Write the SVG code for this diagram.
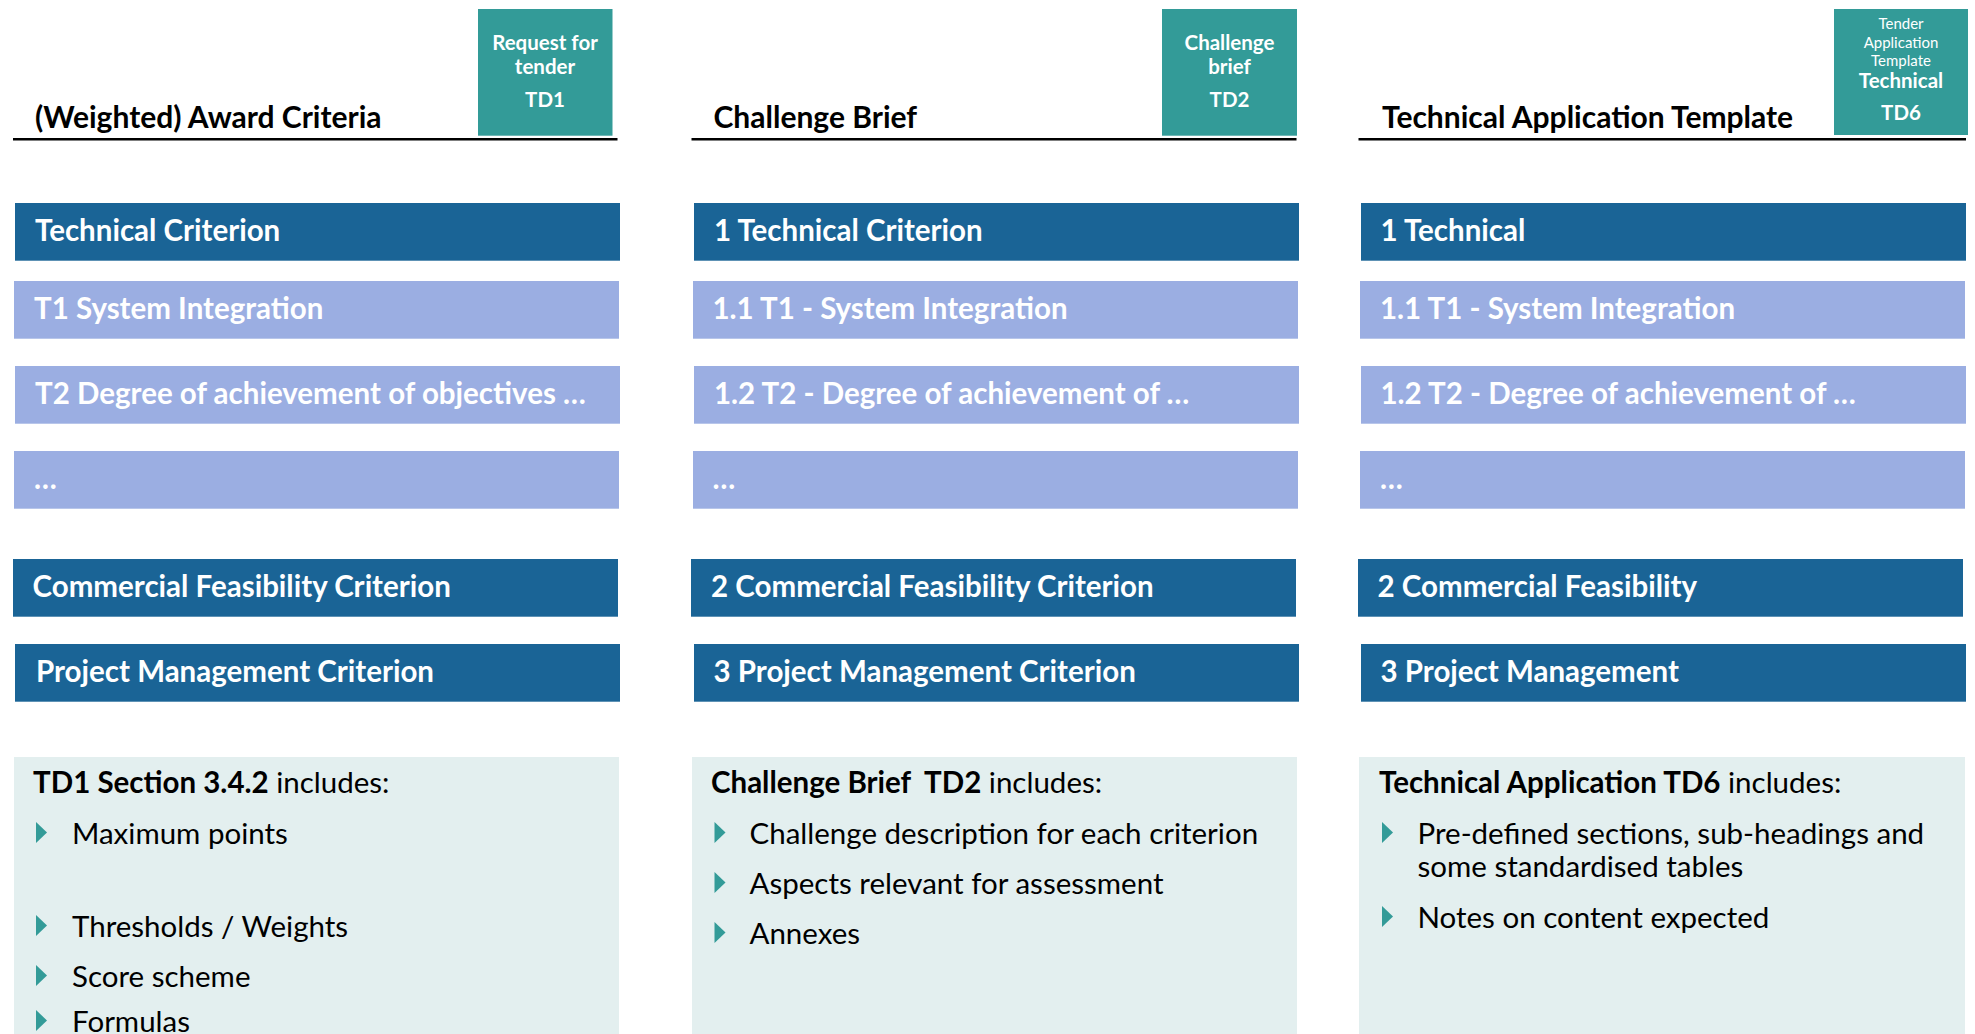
<svg xmlns="http://www.w3.org/2000/svg" width="1975" height="1034" viewBox="0 0 1975 1034">
<style>
text{font-family:Lato,"Open Sans","Liberation Sans",sans-serif}
.title{font-size:30px;font-weight:bold;fill:#000}
.tag{fill:#339b98}
.tagt{font-size:20.5px;font-weight:bold;fill:#fff;text-anchor:middle}
.tags{font-size:15px;fill:#fff;text-anchor:middle}
.rule{stroke:#000;stroke-width:2.5}
.dark{fill:#1a6496}
.light{fill:#9baee2}
.bt{font-size:29.5px;font-weight:bold;fill:#fff}
.info{fill:#e3efef}
.ih{font-size:29.5px;fill:#000;white-space:pre}
.it{font-size:29.5px;fill:#000}
.b{font-weight:bold}
.tri{fill:#339b98}
</style>
<defs>
<polygon id="tri" points="0,-22 11,-11.5 0,-1" class="tri"/>
</defs>

<g id="col1">
 <g id="col1-header">
  <text class="title" x="35" y="127.7">(Weighted) Award Criteria</text>
  <line class="rule" x1="13" y1="139.3" x2="617.5" y2="139.3"/>
  <rect class="tag" x="478" y="9" width="134.5" height="126.7"/>
  <text class="tagt" x="545" y="50">Request for</text>
  <text class="tagt" x="545" y="74">tender</text>
  <text class="tagt" x="545" y="106.7">TD1</text>
 </g>
 <g id="col1-technical"><rect class="dark" x="15" y="203" width="605" height="57.7"/><text class="bt" x="35" y="240.7">Technical Criterion</text></g>
 <g id="col1-t1"><rect class="light" x="14" y="281" width="605" height="57.7"/><text class="bt" x="34" y="318.5">T1 System Integration</text></g>
 <g id="col1-t2"><rect class="light" x="15" y="366" width="605" height="57.7"/><text class="bt" x="35" y="403.5">T2 Degree of achievement of objectives …</text></g>
 <g id="col1-more"><rect class="light" x="14" y="451" width="605" height="57.7"/><text class="bt" x="34" y="488.5">…</text></g>
 <g id="col1-commercial"><rect class="dark" x="13" y="559" width="605" height="57.7"/><text class="bt" x="32.5" y="596.7">Commercial Feasibility Criterion</text></g>
 <g id="col1-pm"><rect class="dark" x="15" y="644" width="605" height="57.7"/><text class="bt" x="36" y="681.7">Project Management Criterion</text></g>
 <g id="col1-info">
  <rect class="info" x="14" y="757" width="605" height="277"/>
  <text class="ih" x="33" y="792.7"><tspan class="b">TD1 Section 3.4.2</tspan> includes:</text>
  <use href="#tri" x="36" y="844"/><text class="it" x="72" y="844">Maximum points</text>
  <use href="#tri" x="36" y="937"/><text class="it" x="72" y="937">Thresholds / Weights</text>
  <use href="#tri" x="36" y="987"/><text class="it" x="72" y="987">Score scheme</text>
  <use href="#tri" x="36" y="1032"/><text class="it" x="72" y="1032">Formulas</text>
 </g>
</g>

<g id="col2">
 <g id="col2-header">
  <text class="title" x="713.5" y="127.7">Challenge Brief</text>
  <line class="rule" x1="691.5" y1="139.3" x2="1296.5" y2="139.3"/>
  <rect class="tag" x="1162" y="9" width="135" height="126.7"/>
  <text class="tagt" x="1229.5" y="50">Challenge</text>
  <text class="tagt" x="1229.5" y="74">brief</text>
  <text class="tagt" x="1229.5" y="106.7">TD2</text>
 </g>
 <g id="col2-technical"><rect class="dark" x="694" y="203" width="605" height="57.7"/><text class="bt" x="714" y="240.7">1 Technical Criterion</text></g>
 <g id="col2-t1"><rect class="light" x="693" y="281" width="605" height="57.7"/><text class="bt" x="712.5" y="318.5">1.1 T1 - System Integration</text></g>
 <g id="col2-t2"><rect class="light" x="694" y="366" width="605" height="57.7"/><text class="bt" x="714" y="403.5">1.2 T2 - Degree of achievement of …</text></g>
 <g id="col2-more"><rect class="light" x="693" y="451" width="605" height="57.7"/><text class="bt" x="712.5" y="488.5">…</text></g>
 <g id="col2-commercial"><rect class="dark" x="691" y="559" width="605" height="57.7"/><text class="bt" x="711" y="596.7">2 Commercial Feasibility Criterion</text></g>
 <g id="col2-pm"><rect class="dark" x="694" y="644" width="605" height="57.7"/><text class="bt" x="713.5" y="681.7">3 Project Management Criterion</text></g>
 <g id="col2-info">
  <rect class="info" x="692" y="757" width="605" height="277"/>
  <text class="ih" x="711" y="792.7" xml:space="preserve"><tspan class="b">Challenge Brief  TD2</tspan> includes:</text>
  <use href="#tri" x="714.5" y="844"/><text class="it" x="749.5" y="844">Challenge description for each criterion</text>
  <use href="#tri" x="714.5" y="894"/><text class="it" x="749.5" y="894">Aspects relevant for assessment</text>
  <use href="#tri" x="714.5" y="944"/><text class="it" x="749.5" y="944">Annexes</text>
 </g>
</g>

<g id="col3">
 <g id="col3-header">
  <text class="title" x="1382" y="127.7">Technical Application Template</text>
  <line class="rule" x1="1358.5" y1="139.3" x2="1966" y2="139.3"/>
  <rect class="tag" x="1834" y="9" width="134" height="126"/>
  <text class="tags" x="1901" y="29.3">Tender</text>
  <text class="tags" x="1901" y="48">Application</text>
  <text class="tags" x="1901" y="66">Template</text>
  <text class="tagt" x="1901" y="88.3">Technical</text>
  <text class="tagt" x="1901" y="120">TD6</text>
 </g>
 <g id="col3-technical"><rect class="dark" x="1361" y="203" width="605" height="57.7"/><text class="bt" x="1380.5" y="240.7">1 Technical</text></g>
 <g id="col3-t1"><rect class="light" x="1360" y="281" width="605" height="57.7"/><text class="bt" x="1380" y="318.5">1.1 T1 - System Integration</text></g>
 <g id="col3-t2"><rect class="light" x="1361" y="366" width="605" height="57.7"/><text class="bt" x="1380.5" y="403.5">1.2 T2 - Degree of achievement of …</text></g>
 <g id="col3-more"><rect class="light" x="1360" y="451" width="605" height="57.7"/><text class="bt" x="1380" y="488.5">…</text></g>
 <g id="col3-commercial"><rect class="dark" x="1358" y="559" width="605" height="57.7"/><text class="bt" x="1377.5" y="596.7">2 Commercial Feasibility</text></g>
 <g id="col3-pm"><rect class="dark" x="1361" y="644" width="605" height="57.7"/><text class="bt" x="1380.5" y="681.7">3 Project Management</text></g>
 <g id="col3-info">
  <rect class="info" x="1359" y="757" width="606" height="277"/>
  <text class="ih" x="1379" y="792.7"><tspan class="b">Technical Application TD6</tspan> includes:</text>
  <use href="#tri" x="1382" y="844"/><text class="it" x="1417.5" y="844">Pre-defined sections, sub-headings and</text>
  <text class="it" x="1417.5" y="877">some standardised tables</text>
  <use href="#tri" x="1382" y="928"/><text class="it" x="1417.5" y="928">Notes on content expected</text>
 </g>
</g>

<g id="connectors"/>
</svg>
